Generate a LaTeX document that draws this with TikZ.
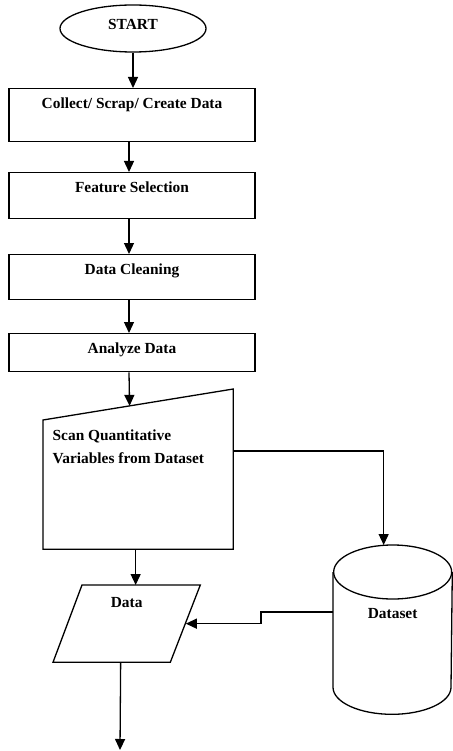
\documentclass[tikz,border=0pt]{standalone}
\usepackage{fontspec}
\setmainfont{Liberation Serif}
\usetikzlibrary{positioning,shapes.geometric,arrows.meta,calc}

\tikzset{
  txt/.style={font=\fontsize{15.4}{23}\selectfont\bfseries},
  stepbox/.style={draw, txt, anchor=north, minimum width=246pt, inner sep=0pt, text height=20pt},
  frame/.style={txt, anchor=north west, inner sep=0pt},
  arr/.style={-{Triangle[length=11pt,width=10pt]}},
}

\begin{document}
\begin{tikzpicture}[x=1pt,y=1pt,line width=1.3pt]
  \useasboundingbox (0,0) rectangle (452,-751);
  \def\slant{31} % drop of the slanted top
  \def\ry{27} % vertical radius of the cylinder ends
  \def\rx{59} % horizontal radius of the cylinder ends
  % start
  \node[ellipse, draw, txt, minimum width=146pt, minimum height=47pt, inner sep=0pt,
        text height=12pt, text depth=9pt] (start) at (133,-28.5) {START};
  % process boxes
  \node[stepbox, text depth=33pt] (collect) at (132,-88) {Collect/ Scrap/ Create Data};
  \node[stepbox, text depth=26pt] (feature) at (132,-172) {Feature Selection};
  \node[stepbox, text depth=25pt] (clean) at (132,-254) {Data Cleaning};
  \node[stepbox, text depth=18pt] (analyze) at (132,-333) {Analyze Data};
  % manual input
  \node[frame, minimum width=189pt, minimum height=159pt] (scan) at (43,-389) {};
  \coordinate (sTL) at ($(scan.north west)+(0,-\slant)$);
  \draw (scan.south west) -- (scan.south east) -- (scan.north east) -- (sTL) -- cycle;
  \node[frame, align=left] (scantext) at (52,-429.5) {Scan Quantitative\\Variables from Dataset};
  % data
  \node[frame, minimum width=146pt, minimum height=76pt, text height=21.5pt, text depth=54.5pt] (data) at (53,-585) {Data};
  \draw ($(data.north west)+(29,0)$) -- (data.north east) -- ($(data.south east)+(-30,0)$) -- (data.south west) -- cycle;
  \coordinate (dR) at ($(data.east)+(-14.5,0)$);
  % dataset
  \node[frame, minimum width=118pt, minimum height=168pt, text height=72.5pt, text depth=95.5pt] (db) at (333,-545) {Dataset};
  \draw ($(db.north west)+(0,-\ry)$) -- ($(db.south west)+(0,\ry)$) arc (180:360:\rx pt and \ry pt)
        -- ($(db.north east)+(0,-\ry)$);
  \draw ($(db.north)+(0,-\ry)$) ellipse (\rx pt and \ry pt);
  % connectors
  \draw[arr] (start.south) -- (start.south |- collect.north);
  \foreach \a/\b in {collect/feature, feature/clean, clean/analyze} {
    \draw[arr] ($(\a.south)+(-3,0)$) -- ($(\b.north)+(-3,0)$);
  }
  \draw[arr] ($(analyze.south)+(-3,0)$) -- ($(sTL)!0.455!(scan.north east)$);
  \draw[arr] ($(scan.north east)+(0,-62)$) -| ($(db.north)+(-9,0)$);
  \coordinate (sB) at ($(scan.south)+(-2.5,0)$);
  \draw[arr] (sB) -- (sB |- data.north);
  \draw[arr] ($(db.north west)+(0,-67)$) -- ++(-72,0) |- (dR);
  \coordinate (out) at (120,-750);
  \draw[arr] ($(data.south)+(-6,0)$) -- (out);
\end{tikzpicture}
\end{document}
